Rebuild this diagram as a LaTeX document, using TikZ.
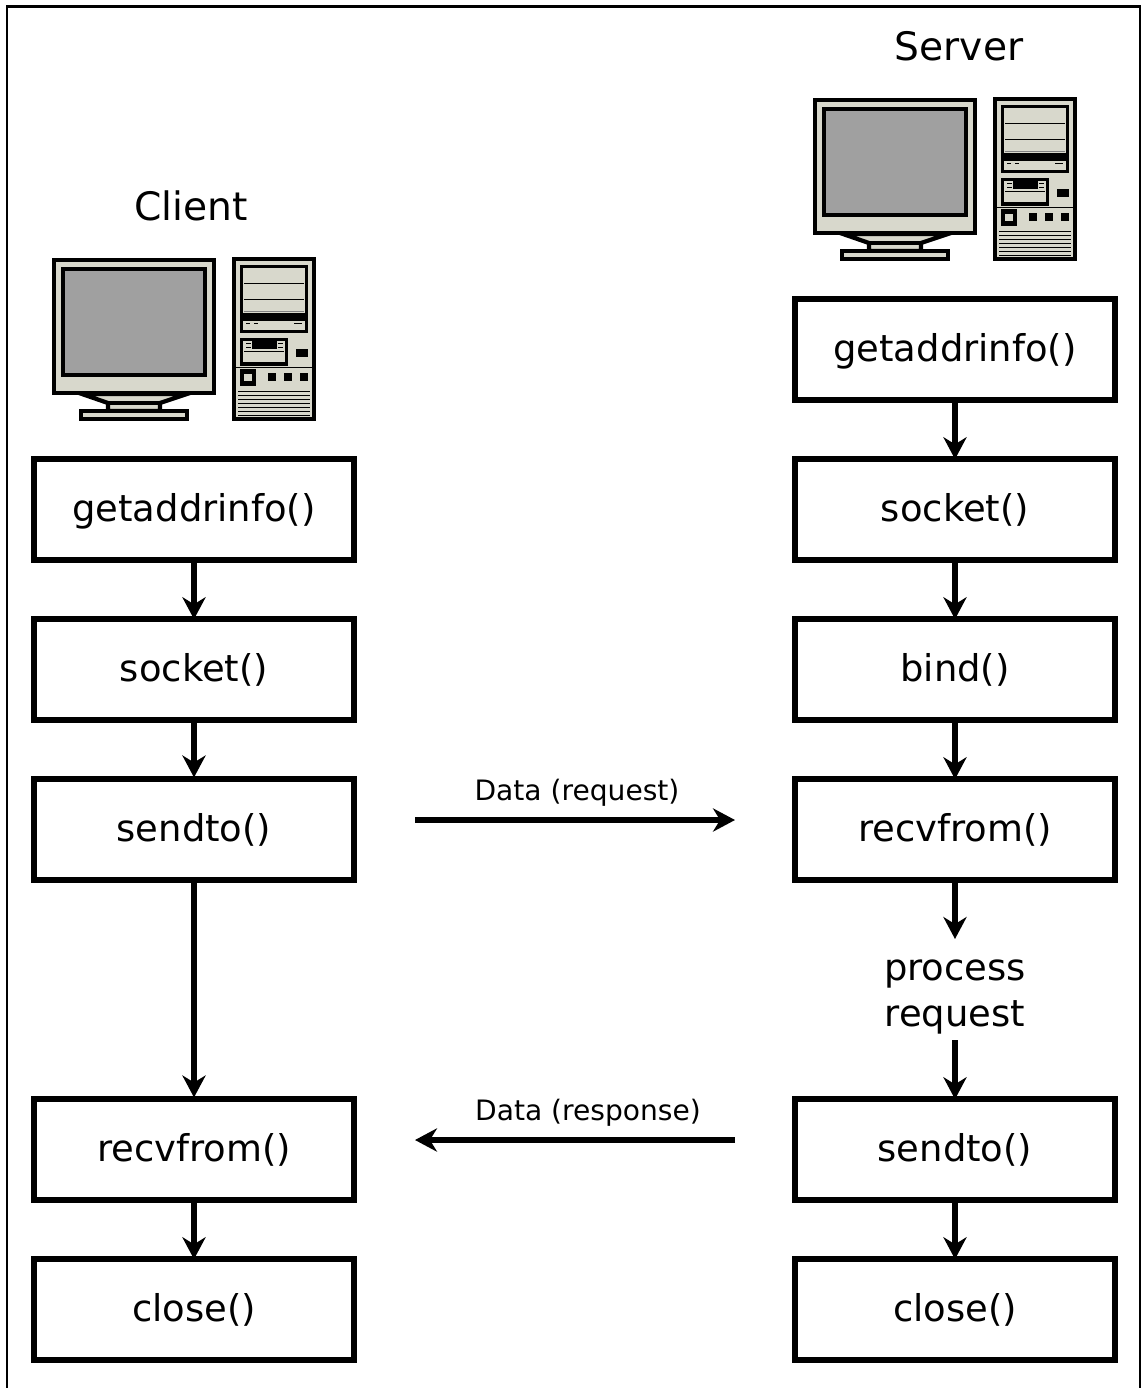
\documentclass[tikz,border=0pt]{standalone}
\usepackage{fontspec}
\setmainfont{DejaVu Sans}
\usetikzlibrary{arrows.meta}
\definecolor{casegray}{HTML}{D8D8CC}
\definecolor{screengray}{HTML}{A0A0A0}
\tikzset{callbox/.style = {draw, line width=3.4pt, minimum width=182.5pt, minimum height=57.25pt,
                           inner sep=0pt, outer sep=0pt, text height=16pt, text depth=2.8pt,
                           font=\fontsize{21}{26}\selectfont}}
\tikzset{flow/.style = {line width=3.4pt, -{Stealth[length=12.5pt,width=13.2pt,inset=4pt]}}}
\tikzset{datalabel/.style = {font=\fontsize{16}{19}\selectfont}}
\tikzset{title/.style = {font=\fontsize{22.3}{26}\selectfont}}
\tikzset{bigblack/.style = {fill=black}}
\tikzset{thinline/.style = {line width=0.55pt}}
\tikzset{computer/.pic = {
	% monitor
	\draw [fill=casegray, draw=black, line width=2.4pt] (82,394) -- (108,403) -- (108,411) -- (160,411) -- (160,403) -- (187,394) -- cycle;
	\draw [draw=black, line width=2.4pt] (108,403) -- (160,403);
	\draw [fill=casegray, line width=2.4pt] (81,411) rectangle (187,419);
	\draw [fill=casegray, line width=2.4pt] (54,260) rectangle (214,393);
	\draw [fill=screengray, line width=2.4pt] (63,269) rectangle (205,375);
	% tower
	\draw [fill=casegray, line width=2.2pt] (234,259) rectangle (314,419);
	\draw [line width=2.2pt] (241.5,266.5) rectangle (306.5,331.5);
	\draw [thinline] (244,283) -- (304,283);
	\draw [thinline] (244,299) -- (304,299);
	\draw [thinline, black!50] (244,311.5) -- (304,311.5);
	\fill [bigblack] (243,313) rectangle (305,321);
	\foreach \xa/\xb in {246/250, 254/258, 294/302}
		\draw [thinline] (\xa,323.5) -- (\xb,323.5);
	% floppy
	\draw [line width=2.2pt] (241.5,339.5) rectangle (286.5,364);
	\fill [bigblack] (252,341) rectangle (277,349);
	\draw [line width=1pt] (244,351.5) -- (284,351.5);
	\foreach \ya in {343.5, 347.5} {
		\draw [thinline] (246,\ya) -- (251,\ya);
		\draw [thinline] (278,\ya) -- (283,\ya);
	}
	\fill [bigblack] (296,349) rectangle (308,357);
	% buttons
	\draw [thinline] (234,367.5) -- (314,367.5);
	\draw [line width=2.4pt] (242,371.5) rectangle (254,383.5);
	\foreach \xa in {268,284,300}
		\fill [bigblack] (\xa,373) rectangle ++(8,8);
	% vents
	\foreach \ya in {391,395,399,403,407,411,415}
		\draw [thinline] (238,\ya) -- (310,\ya);
}}
\begin{document}
\begin{tikzpicture}[x=0.2mm, y=-0.2mm]
	\useasboundingbox (0,0) rectangle (1143,1388);
	\draw [line width=1.2pt] (7,1400) -- (7,6.5) -- (1140,6.5) -- (1140,1400);
	% client
	\node [title] (client) at (191,206) {Client};
	\pic at (0,0) {computer};
	\node [callbox] (cgetaddr) at (194,509.5) {getaddrinfo()};
	\node [callbox] (csocket) at (194,669.5) {socket()};
	\node [callbox] (csendto) at (194,829.5) {sendto()};
	\node [callbox] (crecvfrom) at (194,1149.5) {recvfrom()};
	\node [callbox] (cclose) at (194,1309.5) {close()};
	\draw [flow] (cgetaddr) -- (csocket);
	\draw [flow, shorten >=1pt] (csocket) -- (csendto);
	\draw [flow, shorten >=1pt] (csendto) -- (crecvfrom);
	\draw [flow] (crecvfrom) -- (cclose);
	% server
	\node [title] (server) at (959,46) {Server};
	\pic at (761,-160) {computer};
	\node [callbox] (sgetaddr) at (955,349.5) {getaddrinfo()};
	\node [callbox] (ssocket) at (955,509.5) {socket()};
	\node [callbox] (sbind) at (955,669.5) {bind()};
	\node [callbox] (srecvfrom) at (955,829.5) {recvfrom()};
	\node [align=center, font=\fontsize{21}{26}\selectfont] (process) at (955,997) {process\\request};
	\node [callbox] (ssendto) at (955,1149.5) {sendto()};
	\node [callbox] (sclose) at (955,1309.5) {close()};
	\coordinate (procin) at (955,939);
	\coordinate (procout) at (955,1040);
	\draw [flow] (sgetaddr) -- (ssocket);
	\draw [flow] (ssocket) -- (sbind);
	\draw [flow] (sbind) -- (srecvfrom);
	\draw [flow] (srecvfrom) -- (procin);
	\draw [flow] (procout) -- (ssendto);
	\draw [flow] (ssendto) -- (sclose);
	% data between the two
	\coordinate (reqstart) at (415,820);
	\coordinate (reqend) at (735,820);
	\coordinate (respstart) at (735,1140);
	\coordinate (respend) at (415,1140);
	\draw [flow] (reqstart) -- (reqend);
	\draw [flow] (respstart) -- (respend);
	\node [datalabel] (reqlabel) at (577,792.5) {Data (request)};
	\node [datalabel] (resplabel) at (588,1112.5) {Data (response)};
\end{tikzpicture}
\end{document}
